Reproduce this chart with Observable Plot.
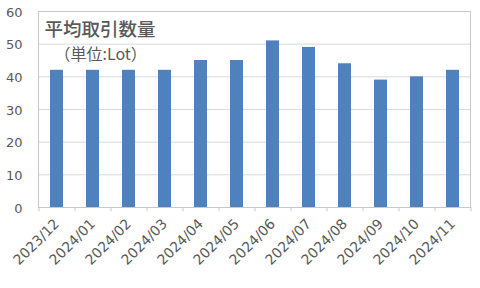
<!DOCTYPE html>
<html><head><meta charset="utf-8">
<script src="https://cdn.jsdelivr.net/npm/d3@7"></script>
<script src="https://cdn.jsdelivr.net/npm/@observablehq/plot@0.6"></script>
<style>
body{margin:0;background:#fff;}
#chart svg{display:block;}
</style></head>
<body><div id="chart"></div>
<script>
const months = ["2023/12","2024/01","2024/02","2024/03","2024/04","2024/05","2024/06","2024/07","2024/08","2024/09","2024/10","2024/11"];
const values = [42,42,42,42,45,45,51,49,44,39,40,42];
const yTicks = [0,10,20,30,40,50,60];
const title = "平均取引数量";
const unit = "（単位:Lot）";

const data = months.map((m,i)=>({month:m, value:values[i]}));
const jp = "'Noto Sans CJK JP',sans-serif";
const num = "'DejaVu Sans','Noto Sans CJK JP',sans-serif";

const chart = Plot.plot({
  width: 480, height: 288,
  marginLeft: 38, marginRight: 10, marginTop: 11, marginBottom: 81,
  style: {fontFamily: num, fontSize: "13px", color: "#595959", background: "#fff"},
  x: {domain: months, paddingInner: 0.64, paddingOuter: 0.32, label: null},
  y: {domain: [0,60], ticks: yTicks, label: null},
  marks: [
    Plot.gridY(yTicks, {stroke: "#d9d9d9", strokeOpacity: 1}),
    Plot.frame({stroke: "#c8c8c8"}),
    Plot.barY(data, {x: "month", y: "value", fill: "#4F81BD"}),
    // category boundary tick marks below the baseline
    Plot.ruleX(months, {x: d => d, dx: -18, y1: 0, y2: -1.3, stroke: "#c8c8c8", clip: false}),
    Plot.ruleX(months.slice(-1), {x: d => d, dx: 18, y1: 0, y2: -1.3, stroke: "#c8c8c8", clip: false}),
    Plot.axisY({ticks: yTicks, tickSize: 0, tickPadding: 16, fontSize: 13, dy: 1, fill: "#595959", label: null}),
    Plot.axisX({tickSize: 0, tickRotate: -45, tickPadding: 14, fontSize: 14, fill: "#595959", label: null, textAnchor: "end"}),
    Plot.text([title], {frameAnchor: "top-left", lineAnchor: "middle", dx: 6, dy: 18.5, fontSize: 18.5, fontWeight: 500, fontFamily: jp, fill: "#595959", textAnchor: "start"}),
    Plot.text([unit], {frameAnchor: "top-left", lineAnchor: "middle", dx: 16, dy: 43.5, fontSize: 16, fontFamily: jp, fill: "#595959", textAnchor: "start"})
  ]
});
document.getElementById("chart").append(chart);
</script></body></html>
